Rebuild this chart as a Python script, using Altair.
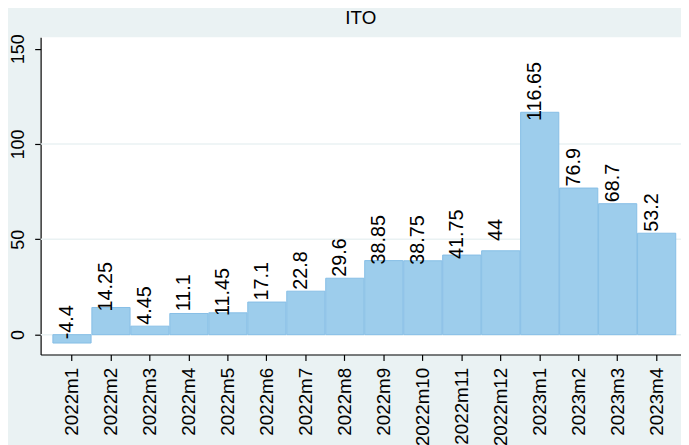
import altair as alt
import pandas as pd

months = ["2022m1", "2022m2", "2022m3", "2022m4", "2022m5", "2022m6", "2022m7", "2022m8",
          "2022m9", "2022m10", "2022m11", "2022m12", "2023m1", "2023m2", "2023m3", "2023m4"]
values = [-4.4, 14.25, 4.45, 11.1, 11.45, 17.1, 22.8, 29.6,
          38.85, 38.75, 41.75, 44, 116.65, 76.9, 68.7, 53.2]
labels = ["-4.4", "14.25", "4.45", "11.1", "11.45", "17.1", "22.8", "29.6",
          "38.85", "38.75", "41.75", "44", "116.65", "76.9", "68.7", "53.2"]
y_ticks = [0, 50, 100, 150]
grid_values = [0, 50, 100]

df = pd.DataFrame({"month": months, "value": values, "label": labels})
grid_df = pd.DataFrame({"g": grid_values})

FONT = "Liberation Sans"
BG = "#EAF2F3"

y_scale = alt.Scale(domain=[-10.4, 156], nice=False, zero=False)
y_axis = alt.Axis(values=y_ticks, labelAngle=270, labelAlign="center", labelBaseline="bottom",
                  labelFontSize=18, labelFont=FONT, labelColor="black",
                  tickSize=6, tickColor="black", tickWidth=1.2, labelPadding=7,
                  domainColor="black", domainWidth=1.2, grid=False)

x_enc = alt.X(
    "month:N", sort=months, title=None,
    scale=alt.Scale(paddingInner=0.02, paddingOuter=0.225, align=0.7),
    axis=alt.Axis(labelAngle=270, labelFontSize=19, labelFont=FONT, labelColor="black",
                  tickSize=6, tickColor="black", tickWidth=1.2, labelPadding=7,
                  domainColor="black", domainWidth=1.2, grid=False),
)

grid = alt.Chart(grid_df).mark_rule(color=BG, strokeWidth=1.5).encode(
    y=alt.Y("g:Q", scale=y_scale, axis=y_axis, title=None)
)

bars = alt.Chart(df).mark_bar(
    fill="#9DCDEC", stroke="#86BEE6", strokeWidth=1
).encode(x=x_enc, y=alt.Y("value:Q", scale=y_scale, axis=y_axis, title=None), y2=alt.datum(0))

text = alt.Chart(df).mark_text(
    angle=270, align="center", baseline="alphabetic", dx=21, dy=1,
    fontSize=20, font=FONT, color="black"
).encode(x=alt.X("month:N", sort=months), y=alt.Y("value:Q", scale=y_scale), text="label:N")

chart = (grid + bars + text).properties(
    width=648, height=321,
    title=alt.TitleParams("ITO", fontSize=19, font=FONT, fontWeight="normal",
                          color="black", offset=6, anchor="middle"),
    autosize=alt.AutoSizeParams(type="none"),
    padding={"left": 33, "top": 27, "right": 0, "bottom": 89},
    background=BG,
).configure_view(fill="white", stroke=None)

chart.save("out.html", embed_options={"renderer": "svg", "actions": False})
